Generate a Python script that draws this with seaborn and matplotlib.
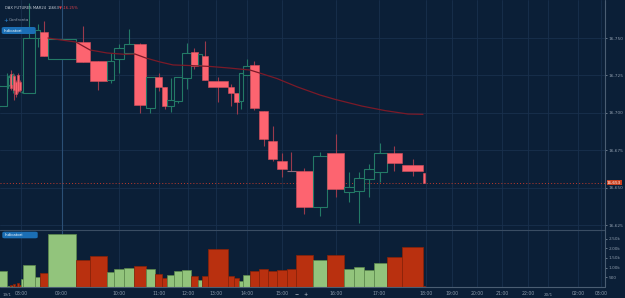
import numpy as np
import pandas as pd
import matplotlib
matplotlib.use("Agg")
import matplotlib.pyplot as plt
import seaborn as sns
from matplotlib.patches import FancyBboxPatch

# ---------- data ----------
# bar boundaries on the (compressed) time axis
edges = [-8, 6.5, 8.3, 10, 11.7, 13.3, 15.2, 17, 18.7, 20.5, 22.7, 35, 40, 47.7, 76, 90,
         106.7, 114.3, 124.3, 134.3, 145.7, 155, 162, 167.3, 174, 182.3, 191, 197.7, 201.7,
         207.7, 227.7, 234, 239, 243.3, 250, 258.7, 268.3, 277.3, 286.7, 296, 312.7, 327.3,
         344.3, 354, 364.3, 373.7, 386.7, 402, 423.3, 424.7]

opens = [16704.8, 16716.6, 16718.6, 16725.9, 16719.3, 16724.6, 16720.6, 16725.3, 16720.6, 16713.6,
         16713.0, 16750.0, 16753.8, 16736.0, 16747.1, 16734.8, 16721.9, 16735.8, 16739.8, 16746.0,
         16703.0, 16723.7, 16717.0, 16704.5, 16708.1, 16723.1, 16740.8, 16732.0, 16738.0, 16721.3,
         16717.0, 16713.0, 16707.9, 16725.3, 16732.0, 16701.2, 16681.2, 16668.0, 16661.1, 16661.1,
         16636.8, 16672.9, 16646.9, 16647.9, 16655.9, 16660.6, 16672.9, 16665.1, 16660.0]
highs = [16719.3, 16726.8, 16725.3, 16728.6, 16726.6, 16725.9, 16721.9, 16726.8, 16721.9, 16714.4,
         16773.4, 16759.4, 16761.4, 16749.1, 16758.0, 16734.8, 16739.8, 16746.0, 16755.8, 16746.9,
         16723.7, 16726.8, 16717.0, 16723.1, 16723.7, 16746.9, 16743.1, 16739.1, 16748.0, 16723.9,
         16719.1, 16713.0, 16726.4, 16735.8, 16734.8, 16701.2, 16691.2, 16672.9, 16674.0, 16662.9,
         16674.0, 16685.8, 16660.6, 16660.6, 16665.8, 16679.6, 16677.8, 16668.9, 16660.0]
lows = [16701.9, 16714.1, 16717.9, 16715.2, 16713.2, 16708.6, 16710.6, 16713.0, 16713.9, 16713.2,
        16713.0, 16744.0, 16738.2, 16736.0, 16734.2, 16715.2, 16719.9, 16726.6, 16739.8, 16699.9,
        16699.7, 16714.8, 16702.3, 16700.3, 16706.4, 16715.7, 16729.1, 16732.0, 16721.9, 16707.4,
        16704.5, 16699.2, 16702.3, 16725.3, 16701.9, 16678.0, 16668.0, 16657.3, 16661.0, 16632.2,
        16631.0, 16643.5, 16640.2, 16626.5, 16643.5, 16654.0, 16661.3, 16658.0, 16652.9]
closes = [16718.1, 16724.6, 16723.9, 16716.6, 16725.3, 16715.2, 16712.6, 16714.4, 16715.2, 16714.2,
          16750.0, 16755.3, 16738.2, 16749.1, 16734.2, 16721.3, 16734.8, 16743.1, 16746.0, 16705.2,
          16723.7, 16717.4, 16704.5, 16708.6, 16723.7, 16740.2, 16731.5, 16739.1, 16721.9, 16717.0,
          16713.0, 16707.4, 16726.4, 16731.5, 16703.0, 16682.5, 16669.1, 16662.2, 16661.0, 16637.2,
          16671.1, 16649.1, 16650.2, 16656.2, 16662.2, 16672.9, 16666.2, 16661.3, 16652.9]
volumes = [824, 60, 40, 90, 50, 139, 70, 190, 120, 396,
           1133, 500, 705, 2730, 1390, 1612, 757, 911, 963, 1097,
           911, 670, 479, 618, 824, 876, 582, 360, 582, 1957,
           582, 479, 309, 618, 824, 927, 840, 891, 911, 1664,
           1390, 1664, 911, 1030, 891, 1220, 1545, 2060, 40]

ma_x = [48, 61, 76, 90, 107, 125, 135, 146, 160, 173, 190, 210, 230, 250, 263, 277, 297, 320,
        335, 362, 385, 408, 423]
ma_y = [16750.0, 16748.7, 16747.3, 16742.0, 16740.0, 16739.1, 16739.3, 16736.6, 16734.0, 16732.0,
        16731.6, 16731.0, 16729.9, 16728.6, 16725.9, 16722.9, 16717.4, 16711.9, 16709.0, 16704.5,
        16701.5, 16699.2, 16699.0]

tick_pos = [21, 61.5, 119, 159, 188, 216, 247, 282, 336, 379, 426, 452, 477, 502, 528, 548, 578, 601]
tick_lab = ["08:00", "09:00", "10:00", "11:00", "12:00", "13:00", "14:00", "15:00", "16:00",
            "17:00", "18:00", "19:00", "20:00", "21:00", "22:00", "", "02:00", "03:00"]
dates = ["19/1", "20/1"]
date_pos = [7, 548]
price_ticks = [16625, 16650, 16675, 16700, 16725, 16750]
vol_ticks = [500, 1000, 1500, 2000, 2500]
vol_labels = ["500", "1.00k", "1.50k", "2.00k", "2.50k"]
last_price = 16652.9

df = pd.DataFrame({"left": edges[:-1], "right": edges[1:], "open": opens, "high": highs,
                   "low": lows, "close": closes, "volume": volumes})
df["width"] = df["right"] - df["left"]
df["mid"] = (df["left"] + df["right"]) / 2
df["up"] = df["close"] > df["open"]

# ---------- style ----------
BG = "#0b1f37"
GRID = "#19304d"
TXT = "#8d9bab"
RED = "#fd6470"
RED_WICK = "#9a3a4c"
GREEN = "#237a66"
VGREEN = "#92c47c"
VRED = "#b9300f"

sns.set_style("dark", {"axes.facecolor": BG, "figure.facecolor": BG})
plt.rcParams["font.family"] = ["DejaVu Sans"]

fig = plt.figure(figsize=(6.25, 2.98), dpi=100)
W, H = 625, 298
axp = fig.add_axes([0, (H - 230) / H, 605 / W, 230 / H])
axv = fig.add_axes([0, (H - 287) / H, 605 / W, 57 / H])

for ax in (axp, axv):
    ax.set_facecolor(BG)
    ax.set_xlim(0, 605)
    for s in ax.spines.values():
        s.set_visible(False)
    for t in tick_pos:
        ax.axvline(t, color=GRID, lw=0.6, zorder=0)
    ax.axvline(61.5, color="#2b4f75", lw=0.8, zorder=0.5)

# ---------- price panel ----------
axp.set_ylim(16621.7, 16775.4)
for p in price_ticks:
    axp.axhline(p, color=GRID, lw=0.6, zorder=0)

for _, r in df.iterrows():
    lo_b, hi_b = min(r.open, r.close), max(r.open, r.close)
    if r.up:
        axp.vlines(r.mid, r.low, r.high, color=GREEN, lw=0.8, zorder=2)
        axp.bar(r.left, hi_b - lo_b, bottom=lo_b, width=r.width, align="edge",
                facecolor=BG, edgecolor=GREEN, lw=0.8, zorder=3)
    else:
        axp.vlines(r.mid, r.low, r.high, color=RED_WICK, lw=0.8, zorder=2)
        if hi_b - lo_b < 0.5:
            axp.hlines(lo_b, r.left, r.right, color="#8c6b7b", lw=0.8, zorder=3)
        else:
            axp.bar(r.left, hi_b - lo_b, bottom=lo_b, width=r.width, align="edge",
                    facecolor=RED, edgecolor="#d9505c", lw=0.4, zorder=3)

sns.lineplot(x=ma_x, y=ma_y, ax=axp, color="#7b1a28", lw=0.9, zorder=4)
axp.axhline(last_price, color="#c23a2c", lw=0.7, ls=(0, (1, 2.2)), zorder=1)

axp.set_xticks([])
axp.yaxis.tick_right()
axp.set_yticks(price_ticks)
axp.set_yticklabels([f"{p:,}" for p in price_ticks])
axp.tick_params(axis="y", labelsize=3.1, colors=TXT, length=1.5, pad=1, width=0.5)

# ---------- volume panel ----------
axv.set_ylim(0, 2940)
vcol = [VGREEN if u else VRED for u in df["up"]]
vedge = ["#5d8a4d" if u else "#8a2208" for u in df["up"]]
axv.bar(df["left"], df["volume"], width=df["width"], align="edge", color=vcol,
        edgecolor=vedge, lw=0.5, zorder=3)
axv.yaxis.tick_right()
axv.set_yticks(vol_ticks)
axv.set_yticklabels(vol_labels)
axv.set_xticks(tick_pos)
axv.set_xticklabels(tick_lab)
axv.tick_params(axis="y", labelsize=3.1, colors=TXT, length=1.5, pad=1, width=0.5)
axv.tick_params(axis="x", labelsize=3.3, colors=TXT, length=1.5, pad=1.5, width=0.5)

# panel separator and axis lines
fig.add_artist(plt.Line2D([0, 605 / W], [(H - 230) / H] * 2, color="#3a4d63", lw=0.8))
fig.add_artist(plt.Line2D([605 / W] * 2, [(H - 287) / H, 1], color="#4a5d72", lw=0.8))
fig.add_artist(plt.Line2D([0, 605 / W], [(H - 287) / H] * 2, color="#4a5d72", lw=0.8))


def fx(x):
    return x / W


def fy(y):
    return 1 - y / H


# header texts
fig.text(fx(5), fy(8), "DAX FUTURES MAR24", fontsize=2.7, color="#c5ccd6", va="center")
fig.text(fx(48), fy(8), "16663", fontsize=2.7, color="#c5ccd6", va="center")
fig.text(fx(58.5), fy(8), "▼", fontsize=2.7, color="#e0404a", va="center")
fig.text(fx(63), fy(8), "-16.25%", fontsize=2.7, color="#e0404a", va="center")
fig.text(fx(3.5), fy(20), "+", fontsize=4, color="#2f8ee0", va="center")
fig.text(fx(9), fy(20), "Confronta", fontsize=3.0, color="#8d9bab", va="center")

for (bx, by, bw, bh) in [(1.7, 27, 34, 7), (2.3, 231.7, 35.4, 6.6)]:
    fig.add_artist(FancyBboxPatch((fx(bx), fy(by + bh)), bw / W, bh / H,
                                  boxstyle="round,pad=0,rounding_size=0.004",
                                  facecolor="#1b6fb5", edgecolor="none"))
    fig.text(fx(bx + 2), fy(by + bh / 2), "Indicatori", fontsize=2.8, color="white", va="center")

# current price label (sits just above the 16,650 tick label)
fig.text(fx(607), fy(182.6), f"{last_price:,.0f}", fontsize=3.0, color="white", va="center",
         bbox=dict(boxstyle="square,pad=0.1", facecolor="#c9401f", edgecolor="none"))

# dates / zoom controls below the axis
for d, x in zip(dates, date_pos):
    fig.text(fx(x), fy(295.5), d, fontsize=3.0, color=TXT, va="center", ha="center")
fig.text(fx(297), fy(295), "−", fontsize=3.6, color="#c5ccd6", va="center", ha="center")
fig.text(fx(306), fy(295), "+", fontsize=3.6, color="#c5ccd6", va="center", ha="center")

fig.savefig("out.png", dpi=100, facecolor=BG)
